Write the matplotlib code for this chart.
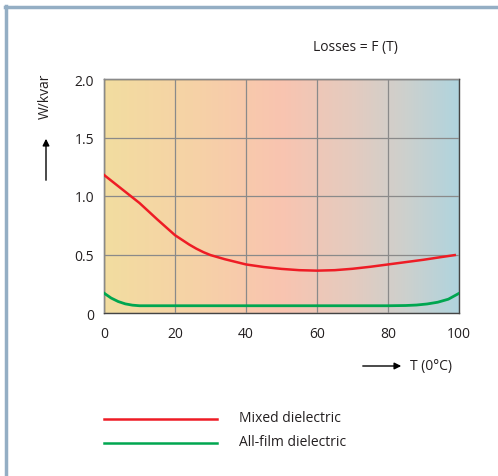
import numpy as np
import matplotlib.pyplot as plt
from matplotlib.colors import LinearSegmentedColormap
from matplotlib.lines import Line2D

# Data
temp_mixed = [0, 5, 10, 15, 20, 22, 24, 26, 28, 30, 34, 40, 45, 50, 55, 60, 65, 70, 75, 80, 85, 90, 95, 98.8]
loss_mixed = [1.18, 1.06, 0.94, 0.8, 0.665, 0.625, 0.585, 0.55, 0.52, 0.495, 0.46, 0.415, 0.393, 0.377, 0.366, 0.362, 0.366, 0.378, 0.395, 0.415, 0.435, 0.455, 0.478, 0.495]
temp_film = [0, 2, 4, 6, 8, 10, 20, 40, 60, 80, 85, 88, 91, 94, 97, 100]
loss_film = [0.17, 0.128, 0.098, 0.078, 0.067, 0.062, 0.062, 0.062, 0.062, 0.062, 0.064, 0.068, 0.077, 0.092, 0.118, 0.168]
x_ticks = [0, 20, 40, 60, 80, 100]
y_ticks = [0, 0.5, 1.0, 1.5, 2.0]
y_ticklabels = ['0', '0.5', '1.0', '1.5', '2.0']

plt.rcParams['font.family'] = ['Open Sans', 'DejaVu Sans']
txt = '#231f20'
fs = 10

fig = plt.figure(figsize=(4.98, 4.77), dpi=100)
ax = fig.add_axes([104 / 498, 1 - 314 / 477, 355 / 498, 234 / 477])

# gradient background: yellow -> salmon -> light blue
cmap = LinearSegmentedColormap.from_list('bg', [
    (0.0, '#f2dda0'), (0.25, '#f6d2a6'), (0.5, '#f9c4b0'),
    (0.7, '#e4cbbf'), (0.85, '#cdd0cd'), (1.0, '#b0d4de')])
grad = np.linspace(0, 1, 256).reshape(1, -1)
ax.imshow(grad, cmap=cmap, aspect='auto', extent=[0, 100, 0, 2], zorder=0)

ax.plot(temp_mixed, loss_mixed, color='#ee1c25', lw=1.8, zorder=3)
ax.plot(temp_film, loss_film, color='#00a650', lw=2.0, zorder=3)

ax.set_xlim(0, 100)
ax.set_ylim(0, 2)
ax.set_xticks(x_ticks)
ax.set_yticks(y_ticks)
ax.set_yticklabels(y_ticklabels)
ax.grid(True, color='#8a8a8a', lw=0.9, zorder=1)
ax.set_axisbelow(False)
ax.tick_params(axis='y', length=0, labelsize=fs, colors=txt, pad=7)
ax.tick_params(axis='x', length=0, labelsize=fs, colors=txt, pad=9)
for s in ax.spines.values():
    s.set_color('#444444')
    s.set_linewidth(1.0)

# outer frame (top and left)
fig.add_artist(Line2D([6 / 498, 6 / 498], [0, 1 - 7 / 477], color='#94aec4', lw=2.5))
fig.add_artist(Line2D([5 / 498, 1], [1 - 8 / 477, 1 - 8 / 477], color='#94aec4', lw=2.5))

fig.text(355 / 498, 1 - 47 / 477, 'Losses = F (T)', ha='center', va='center', fontsize=fs, color=txt)
fig.text(45 / 498, 1 - 96 / 477, 'W/kvar', rotation=90, ha='center', va='center', fontsize=fs, color=txt)
ax.annotate('', xy=(46 / 498, 1 - 137 / 477), xytext=(46 / 498, 1 - 184 / 477),
            xycoords='figure fraction',
            arrowprops=dict(arrowstyle='-|>', color='black', lw=1.0, mutation_scale=10))
ax.annotate('', xy=(404 / 498, 1 - 367 / 477), xytext=(360 / 498, 1 - 367 / 477),
            xycoords='figure fraction',
            arrowprops=dict(arrowstyle='-|>', color='black', lw=1.0, mutation_scale=10))
fig.text(410 / 498, 1 - 367 / 477, 'T (0°C)', ha='left', va='center', fontsize=fs, color=txt)

# legend
fig.add_artist(Line2D([104 / 498, 217 / 498], [1 - 420 / 477] * 2, color='#ee1c25', lw=1.8))
fig.add_artist(Line2D([104 / 498, 217 / 498], [1 - 444 / 477] * 2, color='#00a650', lw=1.8))
fig.text(239 / 498, 1 - 419 / 477, 'Mixed dielectric', ha='left', va='center', fontsize=fs, color=txt)
fig.text(239 / 498, 1 - 442 / 477, 'All-film dielectric', ha='left', va='center', fontsize=fs, color=txt)

fig.savefig('out.png', dpi=100)
